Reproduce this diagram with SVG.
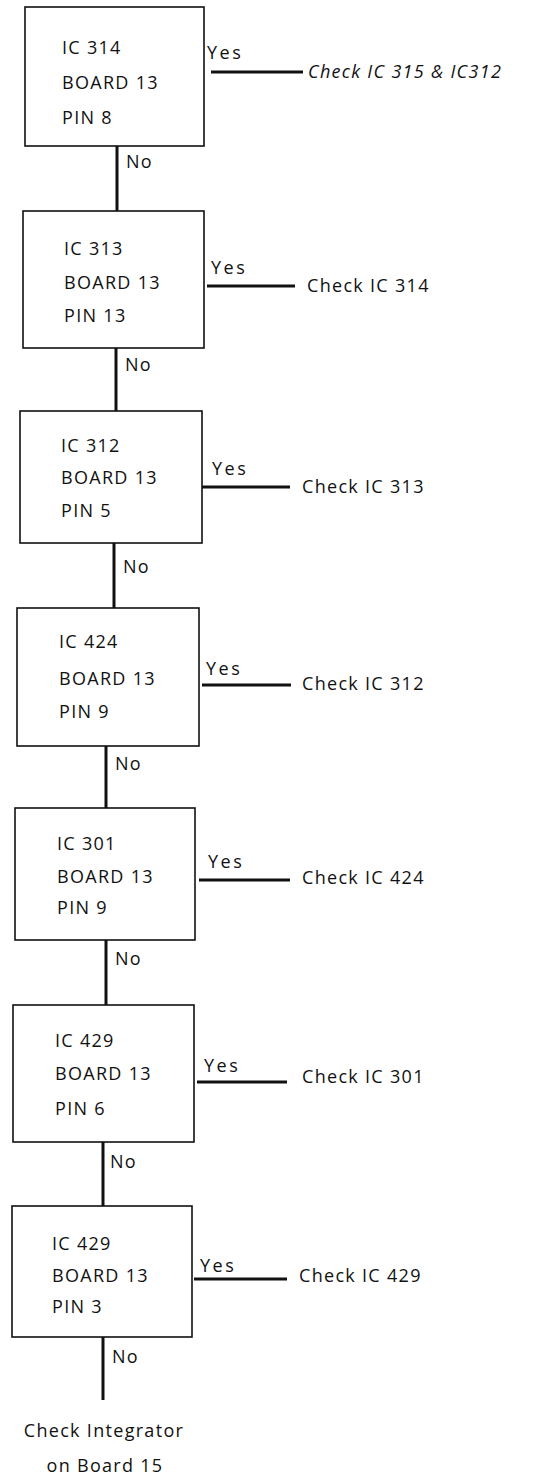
<svg xmlns="http://www.w3.org/2000/svg" width="545" height="1477" viewBox="0 0 545 1477">
<style>
.box{fill:#fff;stroke:#111;stroke-width:1.6}
.t{font-family:"Open Sans","DejaVu Sans",sans-serif;font-size:18px;letter-spacing:1.3px;fill:#111}
.y{letter-spacing:2.5px}
.it{font-style:italic}
.c{stroke:#111;stroke-width:3;fill:none}
</style>
<rect width="545" height="1477" fill="#fff"/>
<g id="connectors">
<line class="c" x1="117" y1="146" x2="117" y2="211"/>
<line class="c" x1="116" y1="348" x2="116" y2="411"/>
<line class="c" x1="114" y1="543" x2="114" y2="608"/>
<line class="c" x1="106" y1="746" x2="106" y2="808"/>
<line class="c" x1="106" y1="940" x2="106" y2="1005"/>
<line class="c" x1="103" y1="1142" x2="103" y2="1206"/>
<line class="c" x1="103" y1="1337" x2="103" y2="1400"/>
<line class="c" x1="211" y1="72" x2="303" y2="72"/>
<line class="c" x1="207" y1="286" x2="295" y2="286"/>
<line class="c" x1="202" y1="487" x2="290" y2="487"/>
<line class="c" x1="202" y1="685" x2="291" y2="685"/>
<line class="c" x1="199" y1="880" x2="290" y2="880"/>
<line class="c" x1="197" y1="1082" x2="287" y2="1082"/>
<line class="c" x1="194" y1="1279" x2="287" y2="1279"/>
<text class="t y" x="207" y="59">Yes</text>
<text class="t y" x="211" y="274">Yes</text>
<text class="t y" x="212" y="475">Yes</text>
<text class="t y" x="206" y="675">Yes</text>
<text class="t y" x="208" y="868">Yes</text>
<text class="t y" x="204" y="1072">Yes</text>
<text class="t y" x="200" y="1272">Yes</text>
<text class="t" x="126" y="168">No</text>
<text class="t" x="125" y="371">No</text>
<text class="t" x="123" y="573">No</text>
<text class="t" x="115" y="770">No</text>
<text class="t" x="115" y="965">No</text>
<text class="t" x="110" y="1168">No</text>
<text class="t" x="112" y="1363">No</text>
</g>
<g id="n1">
<rect class="box" x="25" y="7" width="179" height="139"/>
<text class="t" x="62" y="54">IC 314</text>
<text class="t" x="62" y="89">BOARD 13</text>
<text class="t" x="62" y="124">PIN 8</text>
</g>
<g id="r1"><text class="t it" x="308" y="78">Check IC 315 &amp; IC312</text></g>
<g id="n2">
<rect class="box" x="23" y="211" width="181" height="137"/>
<text class="t" x="64" y="255">IC 313</text>
<text class="t" x="64" y="289">BOARD 13</text>
<text class="t" x="64" y="322">PIN 13</text>
</g>
<g id="r2"><text class="t" x="307" y="292">Check IC 314</text></g>
<g id="n3">
<rect class="box" x="20" y="411" width="182" height="132"/>
<text class="t" x="61" y="452">IC 312</text>
<text class="t" x="61" y="484">BOARD 13</text>
<text class="t" x="61" y="517">PIN 5</text>
</g>
<g id="r3"><text class="t" x="302" y="493">Check IC 313</text></g>
<g id="n4">
<rect class="box" x="17" y="608" width="182" height="138"/>
<text class="t" x="59" y="648">IC 424</text>
<text class="t" x="59" y="685">BOARD 13</text>
<text class="t" x="59" y="718">PIN 9</text>
</g>
<g id="r4"><text class="t" x="302" y="690">Check IC 312</text></g>
<g id="n5">
<rect class="box" x="15" y="808" width="180" height="132"/>
<text class="t" x="57" y="850">IC 301</text>
<text class="t" x="57" y="883">BOARD 13</text>
<text class="t" x="57" y="914">PIN 9</text>
</g>
<g id="r5"><text class="t" x="302" y="884">Check IC 424</text></g>
<g id="n6">
<rect class="box" x="13" y="1005" width="181" height="137"/>
<text class="t" x="55" y="1047">IC 429</text>
<text class="t" x="55" y="1080">BOARD 13</text>
<text class="t" x="55" y="1115">PIN 6</text>
</g>
<g id="r6"><text class="t" x="302" y="1083">Check IC 301</text></g>
<g id="n7">
<rect class="box" x="12" y="1206" width="180" height="131"/>
<text class="t" x="52" y="1250">IC 429</text>
<text class="t" x="52" y="1282">BOARD 13</text>
<text class="t" x="52" y="1313">PIN 3</text>
</g>
<g id="r7"><text class="t" x="299" y="1282">Check IC 429</text></g>
<g id="end">
<text class="t" x="104" y="1437" text-anchor="middle">Check Integrator</text>
<text class="t" x="105" y="1472" text-anchor="middle">on Board 15</text>
</g>
</svg>
